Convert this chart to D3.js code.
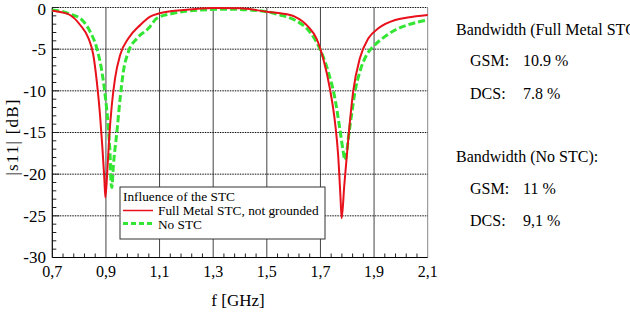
<!DOCTYPE html>
<html><head><meta charset="utf-8">
<script src="https://cdn.jsdelivr.net/npm/d3@7"></script>
<style>body{margin:0;background:#fff;overflow:hidden}svg{display:block}</style>
</head><body>
<svg id="c" width="630" height="318"></svg>
<script>
const xTicks = [0.7, 0.9, 1.1, 1.3, 1.5, 1.7, 1.9, 2.1];
const xTickLabels = ["0,7","0,9","1,1","1,3","1,5","1,7","1,9","2,1"];
const yTicks = [0, -5, -10, -15, -20, -25, -30];
const yTickLabels = ["0","-5","-10","-15","-20","-25","-30"];
const seriesNames = ["Full Metal STC, not grounded", "No STC"];
const redF = [0.70,0.73,0.766,0.804,0.835,0.853,0.866,0.878,0.887,0.894,0.898,0.905,0.912,0.922,0.934,0.953,0.984,1.028,1.065,1.10,1.19,1.30,1.40,1.50,1.55,1.604,1.654,1.685,1.710,1.735,1.754,1.766,1.775,1.779,1.789,1.804,1.822,1.847,1.879,1.916,1.979,2.025,2.10];
const redDB = [-0.35,-0.55,-0.9,-2.1,-3.7,-5.7,-8.9,-12.9,-16.9,-20.5,-22.8,-19.7,-15.7,-11.7,-8.5,-5.7,-3.7,-2.1,-1.1,-0.7,-0.3,-0.05,-0.1,-0.5,-0.7,-1.1,-2.3,-3.7,-6.1,-9.7,-13.7,-17.7,-22.9,-25.3,-21.3,-15.7,-10.1,-6.1,-3.7,-2.5,-1.5,-1.2,-0.9];
const greenF = [0.70,0.74,0.775,0.804,0.841,0.866,0.885,0.897,0.909,0.916,0.919,0.922,0.928,0.941,0.953,0.965,0.984,1.016,1.059,1.09,1.152,1.252,1.35,1.437,1.50,1.55,1.604,1.654,1.697,1.729,1.754,1.772,1.785,1.791,1.797,1.804,1.816,1.829,1.847,1.872,1.903,1.940,1.979,2.025,2.10];
const greenDB = [-0.3,-0.5,-0.9,-1.3,-2.9,-4.9,-7.7,-10.5,-14.5,-18.1,-21.0,-21.6,-18.9,-14.9,-10.9,-7.7,-5.3,-3.7,-2.5,-1.3,-0.7,-0.3,-0.2,-0.3,-0.5,-0.9,-1.5,-2.7,-4.9,-7.7,-10.9,-14.5,-17.3,-18.3,-17.6,-15.7,-12.9,-10.1,-7.7,-5.7,-4.5,-3.5,-2.7,-2.1,-1.5];
const sideTitles = ["Bandwidth (Full Metal STC):", "Bandwidth (No STC):"];
const bandLabels = ["GSM:", "DCS:"];
const bandValues = [["10.9 %", "7.8 %"], ["11 %", "9,1 %"]];

const svg = d3.select("#c");
const font = "'Liberation Serif','Times New Roman',serif";
const L = 52.3, R = 427.7, T = 7.5, B = 257.5;
const x = d3.scaleLinear().domain([0.7, 2.1]).range([L, R]);
const y = d3.scaleLinear().domain([-30, 0]).range([B, T]);

// vertical grid (solid gray)
svg.append("g").selectAll("line").data(xTicks.slice(1)).join("line")
  .attr("x1", d => x(d)).attr("x2", d => x(d)).attr("y1", T).attr("y2", B)
  .attr("stroke", d => d === 2.1 ? "#888" : "#444").attr("stroke-width", 1);
// horizontal grid (dotted)
svg.append("g").selectAll("line").data(yTicks.slice(0, 6)).join("line")
  .attr("x1", L).attr("x2", R).attr("y1", d => y(d)).attr("y2", d => y(d))
  .attr("stroke", "#111").attr("stroke-width", 1).attr("stroke-dasharray", "1.5,1");

// minor ticks
const yMinor = d3.range(-30, 0.5, 1).filter(v => v % 5 !== 0);
svg.append("g").selectAll("line").data(yMinor).join("line")
  .attr("x1", L).attr("x2", L + 4).attr("y1", d => y(d)).attr("y2", d => y(d))
  .attr("stroke", "#222");
svg.append("g").selectAll("line").data(yTicks).join("line")
  .attr("x1", L).attr("x2", L + 7).attr("y1", d => y(d)).attr("y2", d => y(d))
  .attr("stroke", "#222");
const xMinor = d3.range(0, 35).map(i => 0.7 + i * 0.04).filter(v => Math.abs(((v - 0.7) / 0.2) - Math.round((v - 0.7) / 0.2)) > 0.01);
svg.append("g").selectAll("line").data(xMinor).join("line")
  .attr("x1", d => x(d)).attr("x2", d => x(d)).attr("y1", B).attr("y2", B - 4)
  .attr("stroke", "#222");

// axes lines
svg.append("line").attr("x1", L).attr("x2", L).attr("y1", T).attr("y2", B).attr("stroke", "#000").attr("stroke-width", 1.2);
svg.append("line").attr("x1", L).attr("x2", R).attr("y1", B).attr("y2", B).attr("stroke", "#000").attr("stroke-width", 1.2);

// tick labels
svg.append("g").selectAll("text").data(yTicks).join("text")
  .attr("x", 46).attr("y", d => y(d) + (d === 0 ? 1.5 : 0)).attr("dy", "0.35em").attr("text-anchor", "end")
  .attr("font-family", font).attr("font-size", 17).text((d, i) => yTickLabels[i]);
svg.append("g").selectAll("text").data(xTicks).join("text")
  .attr("x", d => x(d)).attr("y", 277).attr("text-anchor", "middle")
  .attr("font-family", font).attr("font-size", 16).text((d, i) => xTickLabels[i]);

// axis titles
svg.append("text").attr("transform", "translate(18,137) rotate(-90)").attr("text-anchor", "middle")
  .attr("font-family", font).attr("font-size", 17).attr("letter-spacing", 1.2).text("|s11| [dB]");
svg.append("text").attr("x", 238).attr("y", 306).attr("text-anchor", "middle")
  .attr("font-family", font).attr("font-size", 17).text("f [GHz]");

// curves
const line = d3.line().x(d => x(d[0])).y(d => y(d[1])).curve(d3.curveMonotoneX);
svg.append("path").datum(greenF.map((f, i) => [f, greenDB[i]]))
  .attr("d", line).attr("fill", "none").attr("stroke", "#33e633").attr("stroke-width", 3).attr("stroke-dasharray", "7,3");
svg.append("path").datum(redF.map((f, i) => [f, redDB[i]]))
  .attr("d", line).attr("fill", "none").attr("stroke", "#e8101a").attr("stroke-width", 2);

// legend
const lg = svg.append("g");
lg.append("rect").attr("x", 120).attr("y", 187).attr("width", 205).attr("height", 52)
  .attr("fill", "#fff").attr("stroke", "#333").attr("stroke-width", 1);
lg.append("text").attr("x", 123).attr("y", 201).attr("font-family", font).attr("font-size", 13.3).text("Influence of the STC");
lg.append("line").attr("x1", 123).attr("x2", 153).attr("y1", 210.5).attr("y2", 210.5).attr("stroke", "#e8101a").attr("stroke-width", 1.5);
lg.append("text").attr("x", 158).attr("y", 215).attr("font-family", font).attr("font-size", 13.3).text(seriesNames[0]);
lg.append("line").attr("x1", 123).attr("x2", 153).attr("y1", 223.5).attr("y2", 223.5).attr("stroke", "#33e633").attr("stroke-width", 3).attr("stroke-dasharray", "5,3");
lg.append("text").attr("x", 158).attr("y", 229).attr("font-family", font).attr("font-size", 13.3).text(seriesNames[1]);

// side text
const sideY = [[35, 66, 99], [162, 194, 226]];
sideTitles.forEach((t, k) => {
  svg.append("text").attr("x", 456).attr("y", sideY[k][0]).attr("font-family", font).attr("font-size", 16).text(t);
  bandLabels.forEach((b, j) => {
    svg.append("text").attr("x", 470).attr("y", sideY[k][j + 1]).attr("font-family", font).attr("font-size", 16).text(b);
    svg.append("text").attr("x", 523).attr("y", sideY[k][j + 1]).attr("font-family", font).attr("font-size", 16).text(bandValues[k][j]);
  });
});
</script>
</body></html>
